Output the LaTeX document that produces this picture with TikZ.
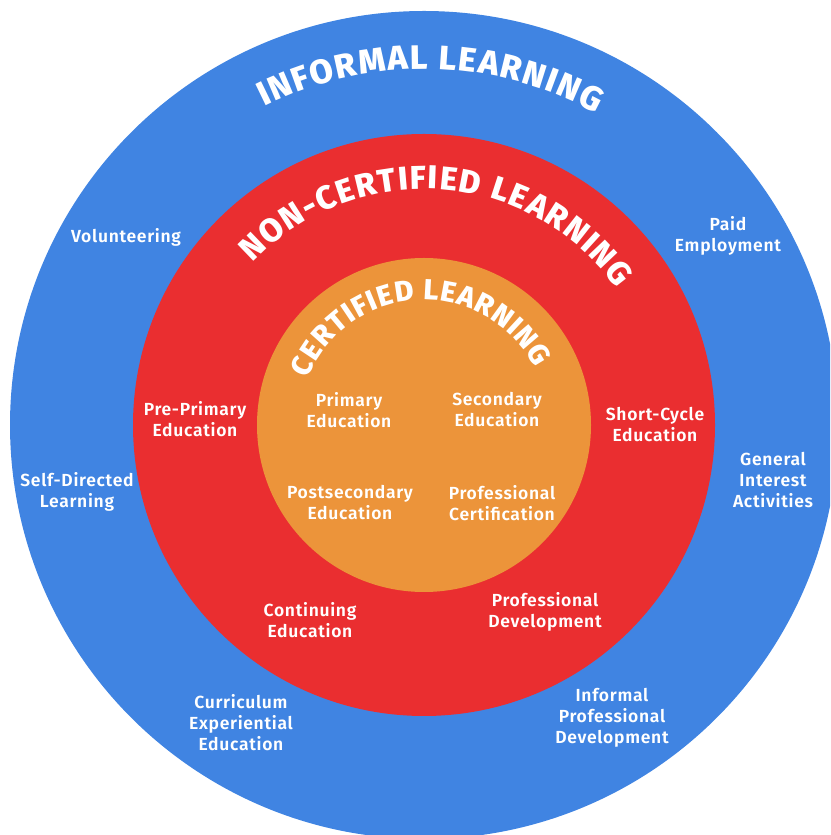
\documentclass[tikz,border=0pt]{standalone}
\usepackage{fontspec}
\setmainfont{Fira Sans}
\newfontfamily\labelfont{Fira Sans SemiBold}[LetterSpace=4]
\newfontfamily\titlefont{Fira Sans ExtraBold}
\usetikzlibrary{decorations.text}
\definecolor{cblue}{RGB}{64,132,226}
\definecolor{cred}{RGB}{234,46,48}
\definecolor{corange}{RGB}{236,148,58}
\tikzset{
  lab/.style={text=white, align=center, inner sep=0pt,
    font=\labelfont\fontsize{17.5}{21}\selectfont},
}
\begin{document}
\begin{tikzpicture}[x=1pt,y=1pt]
\useasboundingbox (0,0) rectangle (830,835);
\coordinate (C) at (424,410);
\begin{scope}
\clip (0,0) rectangle (830,835);
\fill[cblue] (C) circle[radius=414];
\end{scope}
\fill[cred] (C) circle[radius=291];
\fill[corange] (C) circle[radius=167];
% curved titles
\path[decorate, decoration={text along path, text align={fit to path}, text color=white,
  text={|\titlefont\fontsize{34}{34}\selectfont|INFORMAL LEARNING}}]
  ([shift={(116.7:356)}]C) arc[start angle=116.7, end angle=61.1, radius=356];
\path[decorate, decoration={text along path, text align={fit to path}, text color=white,
  text={|\titlefont\fontsize{33}{33}\selectfont|NON-CERTIFIED LEARNING}}]
  ([shift={(136.5:236)}]C) arc[start angle=136.5, end angle=35.3, radius=236];
\path[decorate, decoration={text along path, text align={fit to path}, text color=white,
  text={|\titlefont\fontsize{29}{29}\selectfont|CERTIFIED LEARNING}}]
  ([shift={(158:125)}]C) arc[start angle=158, end angle=27, radius=125];
% labels
\node[lab] (vol) at (126,598) {Volunteering};
\node[lab] (paid) at (728,599) {Paid\\Employment};
\node[lab] (self) at (77,343) {Self-Directed\\Learning};
\node[lab] (gen) at (773,355) {General\\Interest\\Activities};
\node[lab] (curr) at (241,112) {Curriculum\\Experiential\\Education};
\node[lab] (infprof) at (612,117) {Informal\\Professional\\Development};
\node[lab] (prepri) at (195,416) {Pre-Primary\\Education};
\node[lab] (short) at (655,410) {Short-Cycle\\Education};
\node[lab] (cont) at (310,215) {Continuing\\Education};
\node[lab] (profdev) at (545,223) {Professional\\Development};
\node[lab] (primary) at (349,425) {Primary\\Education};
\node[lab] (secondary) at (497,425) {Secondary\\Education};
\node[lab] (postsec) at (350,332) {Postsecondary\\Education};
\node[lab] (profcert) at (502,332) {Professional\\Certification};
\end{tikzpicture}
\end{document}
